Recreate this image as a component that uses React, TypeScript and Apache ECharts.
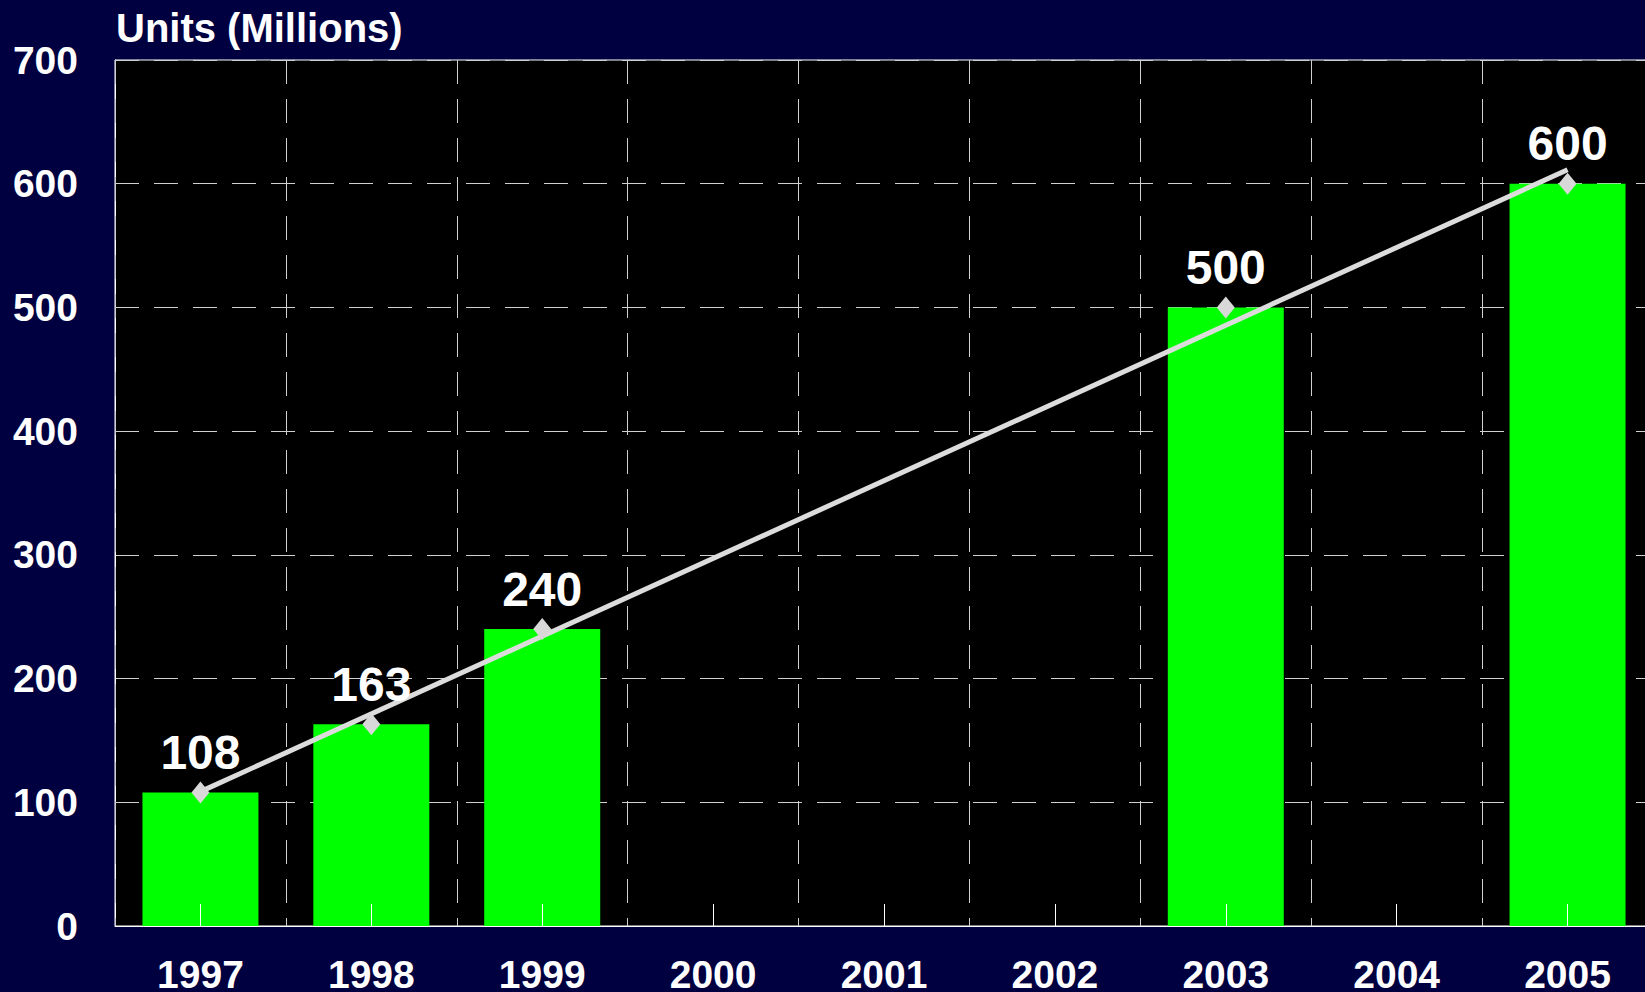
import React, { useEffect, useRef } from "react";
import * as echarts from "echarts";

const categories = ["1997", "1998", "1999", "2000", "2001", "2002", "2003", "2004", "2005"];
const unitValues: (number | string)[] = [108, 163, 240, "-", "-", "-", 500, "-", 600];
const trendStart = 108.6;
const trendEnd = 611.3;
const yTicks = { min: 0, max: 700, interval: 100 };
const titleText = "Units (Millions)";

const FONT = "'Liberation Sans', Arial, sans-serif";

export default function App() {
  const ref = useRef<HTMLDivElement>(null);
  useEffect(() => {
    if (!ref.current) return;
    const chart = echarts.init(ref.current, null, { renderer: "svg" });
    const trendData: (number | string)[] = categories.map((_, i) =>
      i === 0 ? trendStart : i === categories.length - 1 ? trendEnd : "-"
    );
    chart.setOption({
      animation: false,
      backgroundColor: "#000040",
      title: {
        text: titleText,
        left: 116,
        top: 8,
        padding: 0,
        textStyle: { color: "#fff", fontSize: 40, fontWeight: "bold", fontFamily: FONT },
      },
      grid: {
        left: 115,
        right: 0,
        top: 60,
        bottom: 66,
        outerBoundsMode: "none",
        containLabel: false,
        show: true,
        backgroundColor: "#000000",
        borderColor: "#ffffff",
        borderWidth: 1,
      },
      xAxis: {
        type: "category",
        data: categories,
        z: 3,
        axisLine: { show: true, lineStyle: { color: "#ffffff", width: 1 } },
        axisTick: {
          show: true,
          inside: true,
          alignWithLabel: true,
          length: 22,
          lineStyle: { color: "#ffffff", width: 1 },
        },
        axisLabel: {
          color: "#fff",
          fontSize: 39,
          lineHeight: 35,
          fontWeight: "bold",
          fontFamily: FONT,
          margin: 31,
        },
        splitLine: {
          show: true,
          lineStyle: { color: "#d0d0d0", width: 1, type: [24, 15] },
        },
      },
      yAxis: {
        type: "value",
        min: yTicks.min,
        max: yTicks.max,
        interval: yTicks.interval,
        axisLine: { show: true, lineStyle: { color: "#ffffff", width: 1 } },
        axisTick: { show: false },
        axisLabel: {
          color: "#fff",
          fontSize: 39,
          fontWeight: "bold",
          fontFamily: FONT,
          margin: 37,
        },
        splitLine: {
          show: true,
          lineStyle: { color: "#d0d0d0", width: 1, type: [24, 15] },
        },
      },
      series: [
        {
          type: "bar",
          data: unitValues,
          barWidth: 116,
          itemStyle: { color: "#00ff00" },
          z: 2,
        },
        {
          type: "line",
          data: trendData,
          connectNulls: true,
          symbol: "none",
          lineStyle: { color: "#dcdcdc", width: 5 },
          z: 4,
        },
        {
          type: "scatter",
          data: unitValues,
          symbol: "diamond",
          symbolSize: [18, 22],
          itemStyle: { color: "#d8d8d8", opacity: 1 },
          z: 5,
          label: {
            show: true,
            position: "top",
            distance: 5,
            color: "#ffffff",
            opacity: 1,
            fontSize: 48,
            fontWeight: "bold",
            fontFamily: FONT,
          },
        },
      ],
    });
    return () => chart.dispose();
  }, []);
  return (
    <div
      style={{
        position: "fixed",
        left: 0,
        top: 0,
        width: 1645,
        height: 992,
        overflow: "hidden",
        background: "#000040",
      }}
    >
      <div ref={ref} style={{ width: 1653, height: 992 }} />
    </div>
  );
}
